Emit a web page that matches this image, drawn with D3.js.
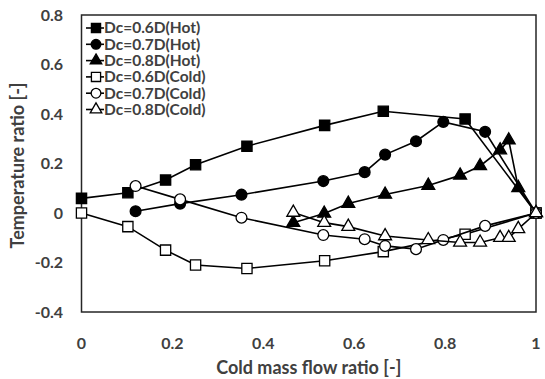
<!DOCTYPE html>
<html>
<head>
<meta charset="utf-8">
<script src="https://cdn.jsdelivr.net/npm/d3@7"></script>
<style>
  body { margin: 0; background: #fff; }
  text { font-family: Lato, "Open Sans", sans-serif; }
</style>
</head>
<body>
<svg id="chart" width="545" height="379"></svg>
<script>
// values
var x6 = [0, 0.102, 0.185, 0.251, 0.364, 0.535, 0.664, 0.844, 1];
var hot6 = [0.059, 0.082, 0.133, 0.195, 0.27, 0.354, 0.411, 0.38, 0];
var cold6 = [0, -0.055, -0.15, -0.21, -0.224, -0.193, -0.156, -0.086, 0];

var x7 = [0.119, 0.217, 0.352, 0.532, 0.623, 0.668, 0.736, 0.796, 0.888, 1];
var hot7 = [0.007, 0.038, 0.074, 0.129, 0.165, 0.236, 0.29, 0.368, 0.328, 0];
var cold7 = [0.109, 0.055, -0.019, -0.089, -0.106, -0.133, -0.146, -0.109, -0.052, 0];

var x8 = [0.466, 0.534, 0.587, 0.668, 0.763, 0.833, 0.877, 0.921, 0.94, 0.961, 1];
var hot8 = [-0.039, -0.002, 0.038, 0.075, 0.111, 0.152, 0.19, 0.254, 0.294, 0.102, 0];
var cold8 = [0.002, -0.039, -0.055, -0.093, -0.109, -0.119, -0.119, -0.1, -0.1, -0.064, 0];

var xTicks = [0, 0.2, 0.4, 0.6, 0.8, 1];
var yTicks = [-0.4, -0.2, 0, 0.2, 0.4, 0.6, 0.8];
var xTitle = "Cold mass flow ratio [-]";
var yTitle = "Temperature ratio [-]";

var series = [
  { name: "Dc=0.6D(Hot)", xs: x6, ys: hot6, shape: d3.symbolSquare, filled: true },
  { name: "Dc=0.7D(Hot)", xs: x7, ys: hot7, shape: d3.symbolCircle, filled: true },
  { name: "Dc=0.8D(Hot)", xs: x8, ys: hot8, shape: d3.symbolTriangle, filled: true },
  { name: "Dc=0.6D(Cold)", xs: x6, ys: cold6, shape: d3.symbolSquare, filled: false },
  { name: "Dc=0.7D(Cold)", xs: x7, ys: cold7, shape: d3.symbolCircle, filled: false },
  { name: "Dc=0.8D(Cold)", xs: x8, ys: cold8, shape: d3.symbolTriangle, filled: false }
];

var svg = d3.select("#chart");
var plotLeft = 81.5, plotRight = 536, plotTop = 15, plotBottom = 312;
var textColor = "#404040";

var x = d3.scaleLinear().domain([0, 1]).range([plotLeft, plotRight]);
var y = d3.scaleLinear().domain([-0.4, 0.8]).range([plotBottom, plotTop]);

function symSize(shape) {
  if (shape === d3.symbolSquare) return 105;
  if (shape === d3.symbolCircle) return 92;
  return 72;
}

// plot box
svg.append("rect")
  .attr("x", plotLeft).attr("y", plotTop)
  .attr("width", plotRight - plotLeft).attr("height", plotBottom - plotTop)
  .attr("fill", "none").attr("stroke", "#262626").attr("stroke-width", 1.5);

// tick labels (plain hyphen for negatives, as in the picture)
svg.append("g").selectAll("text").data(yTicks).enter().append("text")
  .attr("x", 63).attr("y", d => y(d)).attr("dy", "0.35em")
  .attr("text-anchor", "end")
  .style("font-size", "16px").style("font-weight", "bold").style("fill", textColor)
  .text(d => String(d));

svg.append("g").selectAll("text").data(xTicks).enter().append("text")
  .attr("x", d => x(d)).attr("y", 343).attr("dy", "0.35em")
  .attr("text-anchor", "middle")
  .style("font-size", "16px").style("font-weight", "bold").style("fill", textColor)
  .text(d => String(d));

svg.append("text")
  .attr("x", (plotLeft + plotRight) / 2).attr("y", 368).attr("dy", "0.35em")
  .attr("text-anchor", "middle")
  .style("font-size", "18px").style("font-weight", "bold").style("fill", textColor)
  .text(xTitle);

svg.append("text")
  .attr("transform", `translate(18, ${(plotTop + plotBottom) / 2 + 2}) rotate(-90)`)
  .attr("dy", "0.35em")
  .attr("text-anchor", "middle")
  .style("font-size", "18px").style("font-weight", "bold").style("fill", textColor)
  .text(yTitle);

// series
var line = d3.line().x(d => x(d[0])).y(d => y(d[1]));
series.forEach(function (s) {
  var pts = s.xs.map((v, i) => [v, s.ys[i]]);
  var g = svg.append("g");
  g.append("path").datum(pts)
    .attr("d", line)
    .attr("fill", "none").attr("stroke", "#000").attr("stroke-width", 1.6);
  g.selectAll("path.m").data(pts).enter().append("path")
    .attr("class", "m")
    .attr("transform", d => `translate(${x(d[0])},${y(d[1])})`)
    .attr("d", d3.symbol().type(s.shape).size(symSize(s.shape)))
    .attr("fill", s.filled ? "#000" : "#fff")
    .attr("stroke", "#000").attr("stroke-width", 1.3);
});

// legend
var legend = svg.append("g").attr("transform", "translate(86, 28)");
var rows = legend.selectAll("g").data(series).enter().append("g")
  .attr("transform", (d, i) => `translate(0, ${i * 16.3})`);
rows.append("line")
  .attr("x1", 0).attr("x2", 18).attr("y1", 0).attr("y2", 0)
  .attr("stroke", "#000").attr("stroke-width", 1.6);
rows.append("path")
  .attr("transform", "translate(10, 0)")
  .attr("d", d => d3.symbol().type(d.shape).size(symSize(d.shape) * 0.8)())
  .attr("fill", d => d.filled ? "#000" : "#fff")
  .attr("stroke", "#000").attr("stroke-width", 1.3);
rows.append("text")
  .attr("x", 18).attr("y", 0).attr("dy", "0.35em")
  .style("font-size", "15.5px").style("font-weight", "bold").style("fill", textColor)
  .text(d => d.name);
</script>
</body>
</html>
